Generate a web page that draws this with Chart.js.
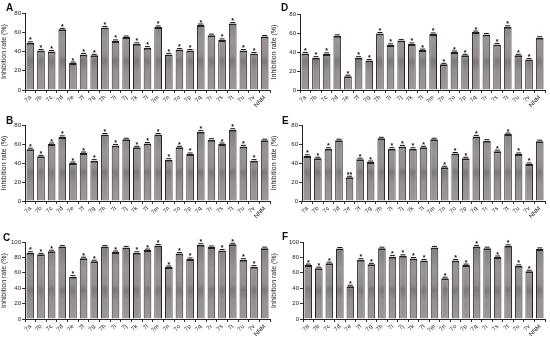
<!DOCTYPE html>
<html>
<head>
<meta charset="utf-8">
<script src="https://cdn.jsdelivr.net/npm/chart.js@4"></script>
<style>
  body { margin: 0; background: #fff; }
  #wrap { position: relative; width: 550px; height: 339px; overflow: hidden; font-family: "Liberation Sans", Arial, sans-serif; }
  canvas { position: absolute; }
  .tag { position: absolute; font-weight: bold; font-size: 10px; color: #111; }
</style>
</head>
<body>
<div id="wrap"></div>
<script>
const labels = ['7a', '7b', '7c', '7d', '7e', '7f', '7g', '7h', '7i', '7j', '7k', '7l',
    '7m', '7n', '7o', '7p', '7q', '7r', '7s', '7t', '7u', '7v', 'NNM'];

const valuesA = [49, 41, 40, 63, 28, 37, 36, 65, 51, 55, 48, 44, 65.5, 37, 42, 41, 67.5, 57, 52, 69, 41, 38, 55.5];
const valuesB = [54.5, 47, 60, 67.5, 40, 50.5, 42.5, 70, 58.5, 65, 56.5, 60.5, 70, 43.5, 56.5, 49.5, 73, 64.5, 60, 75, 57.5, 42.5, 64];
const valuesC = [86, 84, 88, 94, 55, 79, 75, 94, 87, 93, 86, 89.5, 95.5, 67.5, 85, 78, 96.5, 93.5, 89, 97, 77, 68, 92];
const valuesD = [38.5, 34, 38, 57, 14.5, 34, 31, 59.5, 47.5, 52, 48.5, 42, 59, 27, 40, 36.5, 61, 58.5, 48, 66.5, 36.5, 32, 55];
const valuesE = [47.5, 45, 55, 64, 25, 44, 41, 66, 55, 57.5, 55, 56.5, 65, 35.5, 50, 45, 68, 63.5, 52.5, 70.5, 49.5, 39, 63];
const valuesF = [70, 66, 72.5, 91.5, 42.5, 77, 71, 92, 81, 82, 78.5, 76, 93, 53, 76, 70, 94, 92, 80.5, 95, 69, 62, 91];

const starsA = ['*', '*', '*', '*', '*', '*', '*', '*', '*', '', '*', '*', '*', '*', '*', '*', '*', '', '*', '*', '*', '*', ''];
const starsB = ['*', '*', '*', '*', '*', '*', '*', '*', '*', '', '*', '*', '*', '*', '*', '*', '*', '', '*', '*', '*', '*', ''];
const starsC = ['*', '*', '*', '', '*', '*', '*', '', '*', '', '*', '*', '*', '*', '*', '*', '*', '', '*', '*', '*', '*', ''];
const starsD = ['*', '*', '*', '', '*', '*', '*', '*', '*', '', '*', '*', '*', '*', '*', '*', '*', '', '*', '*', '*', '*', ''];
const starsE = ['*', '*', '*', '', '**', '*', '*', '', '*', '*', '*', '*', '', '*', '*', '*', '*', '', '*', '*', '*', '*', ''];
const starsF = ['*', '*', '*', '', '*', '*', '*', '', '*', '*', '*', '*', '', '*', '*', '*', '*', '', '*', '*', '*', '*', ''];

// panel boxes (layout only)
const panels = [
    { tag: 'A', data: valuesA, stars: starsA, max: 80, step: 20, left: 0, top: 0, w: 275, h: 110, padTop: 13, yw: 25, xh: 20, tx: 6, ty: 2 },
    { tag: 'B', data: valuesB, stars: starsB, max: 80, step: 20, left: 0, top: 110, w: 275, h: 110, padTop: 15, yw: 25, xh: 19, tx: 6, ty: 115 },
    { tag: 'C', data: valuesC, stars: starsC, max: 100, step: 20, left: 0, top: 220, w: 275, h: 119, padTop: 22, yw: 25, xh: 20, tx: 3, ty: 232 },
    { tag: 'D', data: valuesD, stars: starsD, max: 80, step: 10, left: 270, top: 0, w: 280, h: 110, padTop: 14, yw: 30, xh: 20, tx: 281, ty: 2 },
    { tag: 'E', data: valuesE, stars: starsE, max: 80, step: 10, left: 270, top: 110, w: 280, h: 110, padTop: 15, yw: 32, xh: 19, tx: 282, ty: 115 },
    { tag: 'F', data: valuesF, stars: starsF, max: 100, step: 20, left: 270, top: 220, w: 280, h: 119, padTop: 22, yw: 33, xh: 20, tx: 282, ty: 231 },
];

// bar fill: banded grey like the scanned figure
function barFill(context) {
    const area = context.chart.chartArea;
    if (!area) return '#8f8989';
    const g = context.chart.ctx.createLinearGradient(0, area.top, 0, area.bottom);
    g.addColorStop(0, '#7c7575');
    g.addColorStop(0.35, '#9a9494');
    g.addColorStop(0.55, '#938d8d');
    g.addColorStop(0.62, '#7f7878');
    g.addColorStop(0.75, '#958f8f');
    g.addColorStop(1, '#9d9797');
    return g;
}

const starPlugin = {
    id: 'stars',
    afterDatasetsDraw(chart) {
        const ds = chart.data.datasets[0];
        const meta = chart.getDatasetMeta(0);
        const ctx = chart.ctx;
        ctx.save();
        ctx.fillStyle = '#111';
        ctx.font = 'bold 7px "Liberation Sans", Arial';
        ctx.textAlign = 'center';
        ctx.textBaseline = 'alphabetic';
        meta.data.forEach((bar, i) => {
            // small error cap
            ctx.fillRect(bar.x - 2.5, bar.y - 1.5, 5, 1);
            if (ds.stars[i]) ctx.fillText(ds.stars[i], bar.x, bar.y - 0.5);
        });
        ctx.restore();
    }
};

const wrap = document.getElementById('wrap');

panels.forEach(p => {
    const cv = document.createElement('canvas');
    cv.width = p.w;
    cv.height = p.h;
    cv.style.left = p.left + 'px';
    cv.style.top = p.top + 'px';
    wrap.appendChild(cv);

    const tag = document.createElement('div');
    tag.className = 'tag';
    tag.textContent = p.tag;
    tag.style.left = p.tx + 'px';
    tag.style.top = p.ty + 'px';
    wrap.appendChild(tag);

    new Chart(cv.getContext('2d'), {
        type: 'bar',
        data: {
            labels: labels,
            datasets: [{
                data: p.data,
                stars: p.stars,
                backgroundColor: barFill,
                borderColor: '#262121',
                borderWidth: { top: 2, left: 1, right: 1, bottom: 0 },
                borderSkipped: 'bottom',
                barPercentage: 0.72,
                categoryPercentage: 1
            }]
        },
        options: {
            responsive: false,
            animation: false,
            layout: { padding: { top: p.padTop, right: 5, left: 0, bottom: 0 } },
            plugins: { legend: { display: false }, tooltip: { enabled: false } },
            scales: {
                x: {
                    grid: { drawOnChartArea: false, tickLength: 3, color: '#333' },
                    border: { color: '#222', width: 1 },
                    ticks: { color: '#222', font: { size: 6, family: '"Liberation Sans", Arial' }, minRotation: 45, maxRotation: 45, padding: 1, autoSkip: false },
                    afterFit: s => { s.height = p.xh; }
                },
                y: {
                    min: 0,
                    max: p.max,
                    grid: { drawOnChartArea: false, tickLength: 3, color: '#333' },
                    border: { color: '#222', width: 1 },
                    ticks: { stepSize: p.step, color: '#222', font: { size: 6, family: '"Liberation Sans", Arial' }, padding: 1 },
                    title: { display: true, text: 'Inhibition rate (%)', color: '#222', font: { size: 7, family: '"Liberation Sans", Arial' }, padding: 0 },
                    afterFit: s => { s.width = p.yw; }
                }
            }
        },
        plugins: [starPlugin]
    });
});
</script>
</body>
</html>
